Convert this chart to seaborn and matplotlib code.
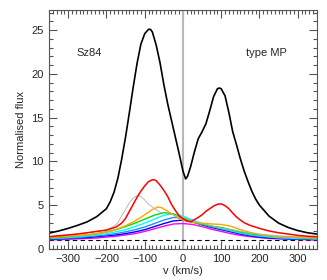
import matplotlib
matplotlib.use("Agg")
import matplotlib.pyplot as plt
import seaborn as sns
import numpy as np
from matplotlib.ticker import MultipleLocator

# ---------------- data ----------------
v_black = [-350, -325, -300, -275, -250, -225, -200, -190, -180, -170, -160, -150, -140, -130,
           -120, -110, -100, -90, -85, -80, -70, -60, -50, -40, -30, -20, -10, 0, 7, 12, 20,
           30, 40, 50, 60, 70, 80, 90, 95, 100, 110, 120, 130, 140, 150, 160, 170, 180, 190,
           200, 225, 250, 275, 300, 325, 350]
f_black = [1.8, 2.05, 2.35, 2.7, 3.1, 3.7, 4.6, 5.4, 6.5, 8.1, 10.3, 12.8, 15.6, 18.5,
           21.2, 23.4, 24.6, 25.1, 25.1, 24.8, 23.3, 21.3, 18.8, 16.6, 14.7, 12.8, 10.9, 8.9, 8.0, 8.3, 9.4,
           11.1, 12.6, 13.4, 14.3, 15.8, 17.4, 18.3, 18.4, 18.3, 17.5, 15.6, 13.4, 11.9, 10.3, 8.9, 7.7, 6.6, 5.7,
           5.0, 3.75, 2.95, 2.45, 2.1, 1.85, 1.7]

v_red = [-350, -325, -300, -275, -250, -225, -200, -175, -160, -150, -140, -130, -120, -110,
         -100, -90, -80, -75, -70, -60, -50, -40, -30, -20, -10, 0, 10, 20, 30, 40, 50, 60,
         70, 80, 90, 100, 110, 120, 130, 140, 150, 160, 175, 200, 225, 250, 275, 300, 325, 350]
f_red = [1.4, 1.5, 1.6, 1.7, 1.85, 2.0, 2.15, 2.5, 2.95, 3.5, 4.3, 5.1, 5.9, 6.6,
         7.2, 7.7, 7.9, 7.9, 7.8, 7.3, 6.7, 6.0, 5.1, 4.4, 3.8, 3.45, 3.2, 3.1, 3.35, 3.6, 3.9, 4.3,
         4.6, 4.9, 5.1, 5.15, 4.95, 4.6, 4.1, 3.65, 3.3, 3.0, 2.7, 2.35, 2.05, 1.85, 1.7, 1.55, 1.45, 1.4]

v_gray = [-350, -300, -250, -200, -180, -170, -160, -150, -140, -130, -120, -110, -100, -90,
          -80, -70, -60, -50, -40, -25, 0, 25, 50, 75, 100, 125, 150, 175, 200, 250, 300, 350]
f_gray = [1.4, 1.6, 1.85, 2.2, 2.6, 3.0, 3.8, 4.5, 5.3, 5.8, 6.1, 6.0, 5.6, 5.1,
          4.8, 4.5, 4.2, 4.1, 4.0, 3.9, 3.6, 3.2, 2.9, 2.6, 2.4, 2.2, 2.0, 1.8, 1.7, 1.5, 1.4, 1.35]

v_orange = [-350, -300, -250, -200, -175, -150, -125, -100, -80, -65, -55, -40, -25, -10, 0,
            15, 30, 50, 75, 100, 125, 150, 175, 200, 225, 250, 300, 350]
f_orange = [1.3, 1.45, 1.6, 1.9, 2.2, 2.65, 3.2, 3.9, 4.5, 4.8, 4.7, 4.3, 3.9, 3.5, 3.3,
            3.15, 3.05, 2.95, 2.85, 2.8, 2.6, 2.2, 1.9, 1.65, 1.5, 1.4, 1.3, 1.25]

v_grid = [-350, -325, -300, -275, -250, -225, -200, -175, -150, -125, -100, -75, -50, -25, 0,
          25, 50, 75, 100, 125, 150, 175, 200, 225, 250, 275, 300, 325, 350]
f_green = [1.25, 1.3, 1.4, 1.5, 1.6, 1.75, 1.95, 2.2, 2.55, 2.95, 3.4, 3.85, 4.15, 4.0, 3.5,
           3.05, 2.8, 2.6, 2.45, 2.2, 1.95, 1.75, 1.6, 1.5, 1.4, 1.35, 1.3, 1.25, 1.2]
f_cyan = [1.2, 1.25, 1.3, 1.4, 1.5, 1.6, 1.75, 1.95, 2.2, 2.55, 2.95, 3.4, 3.85, 4.0, 3.75,
          3.3, 2.9, 2.6, 2.35, 2.1, 1.85, 1.65, 1.5, 1.4, 1.3, 1.25, 1.2, 1.2, 1.15]
f_skyblue = [1.15, 1.2, 1.25, 1.3, 1.4, 1.5, 1.6, 1.75, 1.95, 2.2, 2.5, 2.9, 3.3, 3.6, 3.55,
             3.25, 2.85, 2.55, 2.3, 2.05, 1.8, 1.6, 1.45, 1.35, 1.25, 1.2, 1.15, 1.15, 1.1]
f_blue = [1.1, 1.15, 1.2, 1.25, 1.3, 1.4, 1.5, 1.6, 1.75, 1.95, 2.2, 2.55, 2.9, 3.2, 3.3,
          3.1, 2.75, 2.45, 2.2, 1.95, 1.7, 1.5, 1.35, 1.25, 1.2, 1.15, 1.1, 1.1, 1.05]
f_magenta = [1.05, 1.05, 1.1, 1.15, 1.2, 1.25, 1.35, 1.45, 1.6, 1.75, 2.0, 2.3, 2.6, 2.85, 2.9,
             2.8, 2.55, 2.25, 2.0, 1.75, 1.55, 1.4, 1.3, 1.2, 1.15, 1.1, 1.08, 1.05, 1.05]

x_ticks = [-300, -200, -100, 0, 100, 200, 300]
y_ticks = [0, 5, 10, 15, 20, 25]
star_label = "Sz84"
type_label = "type MP"

# ---------------- plot ----------------
sns.set_style("ticks")
plt.rcParams['font.family'] = ['Liberation Sans', 'DejaVu Sans']
plt.rcParams['font.size'] = 8

fig = plt.figure(figsize=(3.27, 2.80), dpi=100)
ax = fig.add_axes([0.150, 0.111, 0.819, 0.853])

ax.axvline(0, color='#b8b8b8', lw=1.5, zorder=1)
ax.axhline(1, color='black', lw=0.8, ls=(0, (4, 3)), zorder=1)

series = [
    (v_grid, f_magenta, 'magenta', 1.0),
    (v_grid, f_blue, 'blue', 1.0),
    (v_grid, f_skyblue, '#1e90ff', 1.0),
    (v_grid, f_cyan, 'cyan', 1.0),
    (v_grid, f_green, '#00dd00', 1.0),
    (v_orange, f_orange, 'orange', 1.0),
    (v_gray, f_gray, '#b0b0b0', 0.6),
    (v_red, f_red, 'red', 1.1),
    (v_black, f_black, 'black', 1.2),
]
for vx, fy, c, lw in series:
    sns.lineplot(x=vx, y=fy, ax=ax, color=c, lw=lw, estimator=None, sort=False, zorder=2)

ax.set_xlim(-350, 350)
ax.set_ylim(0, 27.3)
ax.set_xticks(x_ticks)
ax.set_yticks(y_ticks)
ax.xaxis.set_minor_locator(MultipleLocator(10))
ax.yaxis.set_minor_locator(MultipleLocator(1))
ax.tick_params(which='both', direction='in', top=True, right=True, color='#555555', width=0.8)
ax.tick_params(which='major', length=6, labelsize=8, pad=4)
ax.tick_params(which='minor', length=3.2)
for s in ax.spines.values():
    s.set_color('#555555')
    s.set_linewidth(0.8)

ax.set_xlabel("v (km/s)", fontsize=8, labelpad=1)
ax.set_ylabel("Normalised flux", fontsize=8, labelpad=4)

ax.text(-245, 22.4, star_label, fontsize=8, ha='center', va='center')
ax.text(217, 22.4, type_label, fontsize=8, ha='center', va='center')

fig.savefig("out.png", dpi=100)
